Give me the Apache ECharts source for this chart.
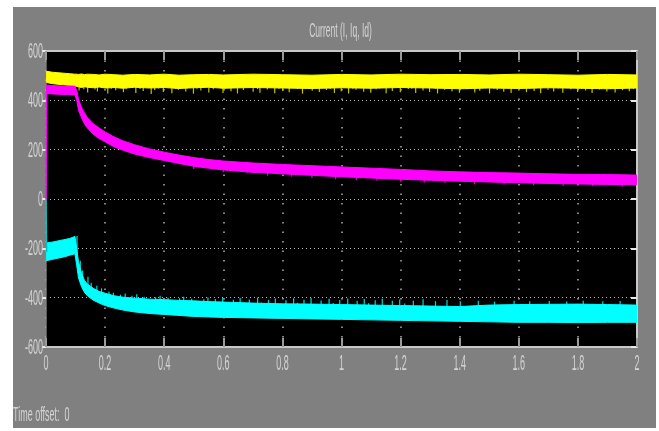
<!DOCTYPE html>
<html>
<head>
<meta charset="utf-8">
<script src="https://cdn.jsdelivr.net/npm/echarts@6/dist/echarts.min.js"></script>
<style>
  html, body { margin: 0; padding: 0; background: #ffffff; }
  #chart { width: 659px; height: 431px; }
</style>
</head>
<body>
<div id="chart"></div>
<script>
// Scope trace: three current signals sampled as band envelopes (low / high edge)
const time = [0.002, 0.02, 0.04, 0.06, 0.08, 0.098, 0.104, 0.11, 0.12, 0.13, 0.14, 0.16, 0.18, 0.2, 0.23, 0.26,
  0.3, 0.35, 0.4, 0.45, 0.5, 0.55, 0.6, 0.7, 0.8, 0.9, 1.0, 1.1, 1.2, 1.3, 1.4, 1.5, 1.6, 1.7, 1.8, 1.9, 2.0];

// I (yellow)
const iHigh = [518, 514, 512, 510, 508, 506, 506, 505, 507, 504, 506, 505, 503, 506, 504, 502,
  505, 503, 506, 502, 504, 505, 503, 506, 504, 502, 505, 503, 506, 504, 505, 503, 506, 504, 502, 505, 503];
const iLow = [472, 468, 465, 463, 460, 458, 456, 455, 452, 455, 453, 451, 454, 450, 452, 449,
  453, 450, 452, 448, 451, 453, 449, 452, 450, 448, 451, 449, 452, 450, 447, 450, 448, 451, 449, 447, 450];

// Iq (magenta)
const iqHigh = [462, 460, 459, 458, 458, 457, 440, 405, 372, 350, 330, 305, 288, 272, 252, 236,
  220, 203, 190, 178, 168, 160, 154, 146, 140, 135, 130, 125, 120, 114, 110, 107, 105, 102, 100, 99, 97];
const iqLow = [428, 426, 425, 424, 423, 422, 400, 360, 330, 305, 288, 262, 245, 232, 212, 198,
  182, 168, 156, 144, 133, 125, 118, 108, 102, 96, 90, 85, 80, 76, 72, 69, 66, 63, 61, 59, 58];

// Id (cyan)
const idHigh = [-178, -175, -170, -165, -160, -152, -200, -255, -300, -330, -345, -362, -375, -382, -392, -398,
  -402, -406, -408, -411, -413, -416, -418, -422, -425, -426, -428, -430, -432, -434, -436, -430, -428, -427, -426, -428, -430];
const idLow = [-250, -245, -240, -235, -228, -222, -270, -320, -355, -378, -392, -410, -422, -432, -442, -450,
  -458, -464, -468, -472, -476, -478, -480, -482, -484, -486, -488, -490, -492, -494, -496, -498, -500, -500, -501, -500, -500];

// Switch-on transients at t = 0
const iqStart = [[0, 0], [0.002, 445]];
const idStart = [[0, 0], [0.002, -215]];

// Noise spikes leaving the bands: [time, tip value]
const iSpikes = [[0.112, 440], [0.128, 445], [0.141, 432], [0.166, 444], [0.174, 436], [0.209, 428], [0.221, 447],
  [0.236, 441], [0.262, 433], [0.271, 445], [0.304, 430], [0.318, 446], [0.329, 438], [0.356, 426], [0.368, 442],
  [0.381, 448], [0.397, 434], [0.426, 429], [0.439, 446], [0.448, 443], [0.473, 436], [0.499, 427], [0.511, 447],
  [0.524, 440], [0.551, 432], [0.566, 445], [0.599, 430], [0.607, 447], [0.626, 437], [0.648, 428], [0.668, 442],
  [0.701, 435], [0.716, 446], [0.724, 431], [0.749, 444], [0.774, 429], [0.788, 447], [0.801, 438], [0.823, 433],
  [0.851, 446], [0.868, 427], [0.879, 448], [0.901, 439], [0.925, 434], [0.949, 442], [0.962, 447], [0.976, 430],
  [0.999, 437], [1.024, 428], [1.038, 447], [1.049, 443], [1.075, 435], [1.099, 431], [1.117, 445], [1.129, 448],
  [1.151, 429], [1.172, 438], [1.199, 433], [1.226, 446], [1.238, 447], [1.251, 430], [1.276, 440], [1.298, 434],
  [1.318, 447], [1.325, 428], [1.349, 443], [1.374, 436], [1.399, 431], [1.411, 447], [1.424, 445], [1.451, 432],
  [1.468, 439], [1.501, 428], [1.516, 447], [1.527, 442], [1.549, 435], [1.574, 430], [1.591, 446], [1.626, 433],
  [1.638, 447], [1.652, 438], [1.674, 429], [1.699, 443], [1.718, 436], [1.733, 448], [1.749, 431], [1.776, 445],
  [1.799, 434], [1.812, 447], [1.826, 440], [1.848, 430], [1.873, 444], [1.898, 436], [1.911, 447], [1.926, 432],
  [1.951, 441], [1.974, 437], [1.988, 446]];
const iqSpikes = [[0.5, 122], [0.6, 108], [0.68, 104], [0.75, 94], [0.83, 90], [0.9, 85], [0.98, 80], [1.05, 76], [1.12, 74],
  [1.2, 70], [1.28, 66], [1.35, 64], [1.45, 60], [1.55, 58], [1.65, 55], [1.75, 53], [1.85, 52], [1.95, 50]];
const idSpikes = [[0.105, -150], [0.116, -250], [0.124, -290], [0.142, -315], [0.153, -340], [0.172, -352], [0.188, -362],
  [0.213, -375], [0.228, -380], [0.252, -388], [0.268, -383], [0.291, -392], [0.307, -386], [0.332, -396], [0.347, -412],
  [0.371, -398], [0.386, -392], [0.413, -400], [0.428, -414], [0.452, -402], [0.466, -396], [0.493, -404], [0.508, -418],
  [0.534, -406], [0.548, -399], [0.573, -405], [0.598, -400], [0.611, -419], [0.634, -408], [0.657, -401], [0.688, -407],
  [0.716, -400], [0.729, -420], [0.753, -409], [0.776, -403], [0.812, -410], [0.838, -402], [0.851, -421], [0.873, -408],
  [0.897, -401], [0.931, -411], [0.958, -404], [0.972, -422], [0.994, -409], [1.021, -403], [1.053, -412], [1.077, -405],
  [1.092, -423], [1.114, -410], [1.138, -404], [1.172, -413], [1.197, -407], [1.214, -424], [1.243, -412], [1.276, -406],
  [1.318, -414], [1.357, -409], [1.402, -415], [1.463, -412], [1.518, -416], [1.584, -413], [1.637, -415], [1.703, -414],
  [1.762, -416], [1.818, -413], [1.884, -415], [1.943, -414]];

// Axis ticks and their printed labels
const xTickValues = [0, 0.2, 0.4, 0.6, 0.8, 1, 1.2, 1.4, 1.6, 1.8, 2];
const xTickLabels = ['0', '0.2', '0.4', '0.6', '0.8', '1', '1.2', '1.4', '1.6', '1.8', '2'];
const yTickValues = [-600, -400, -200, 0, 200, 400, 600];
const yTickLabels = ['-600', '-400', '-200', '0', '200', '400', '600'];

const titleText = 'Current (I, Iq, Id)';
const footerText = 'Time offset:  0';

const LABEL = '#d4d4d4';
const FRAME = '#c8c8c8';
const FONT = "'Liberation Sans', sans-serif";
const SQUEEZE = 0.45;   // scope font is very narrow

// band centre at time t, used as the foot of each spike
function centreAt(t, lo, hi) {
  for (let i = 0; i < time.length - 1; i++) {
    if (t >= time[i] && t <= time[i + 1]) {
      const f = (t - time[i]) / (time[i + 1] - time[i]);
      const a = (lo[i] + hi[i]) / 2, b = (lo[i + 1] + hi[i + 1]) / 2;
      return a + f * (b - a);
    }
  }
  return (lo[lo.length - 1] + hi[hi.length - 1]) / 2;
}

function band(name, lo, hi, color) {
  return {
    name, type: 'custom', clip: true, silent: true, z: 3,
    data: time.map((t, i) => [t, lo[i], hi[i]]),
    encode: { x: 0, y: [1, 2] },
    renderItem(params, api) {
      if (params.dataIndex !== 0) return null;
      const pts = [];
      for (let i = 0; i < time.length; i++) pts.push(api.coord([time[i], hi[i]]));
      for (let i = time.length - 1; i >= 0; i--) pts.push(api.coord([time[i], lo[i]]));
      return { type: 'polygon', shape: { points: pts }, style: { fill: color, stroke: color, lineWidth: 1 } };
    }
  };
}

function spikes(name, list, lo, hi, color) {
  return {
    name, type: 'custom', clip: true, silent: true, z: 2,
    data: list,
    encode: { x: 0, y: 1 },
    renderItem(params, api) {
      const t = api.value(0);
      const p1 = api.coord([t, api.value(1)]);
      const p2 = api.coord([t, centreAt(t, lo, hi)]);
      return { type: 'line', shape: { x1: p1[0], y1: p1[1], x2: p2[0], y2: p2[1] }, style: { stroke: color, lineWidth: 1.2 } };
    }
  };
}

function startLine(name, pts, color) {
  return {
    name, type: 'line', data: pts, symbol: 'none', silent: true, z: 4,
    lineStyle: { color, width: 1.5 }
  };
}

function narrowText(text, x, y, size, align) {
  return {
    type: 'text', x, y, scaleX: SQUEEZE, scaleY: 1.1, silent: true, z: 10,
    style: {
      text, fill: LABEL, font: size + 'px ' + FONT,
      align, verticalAlign: 'middle', textAlign: align, textVerticalAlign: 'middle'
    }
  };
}

const chart = echarts.init(document.getElementById('chart'), null, { renderer: 'canvas' });

const hDots = { color: '#b8b8b8', width: 1, type: [1, 3] };
const vDots = { color: '#b0b0b0', width: 1.5, type: [1.5, 8] };

chart.setOption({
  backgroundColor: '#ffffff',
  animation: false,
  grid: { left: 46, top: 51, width: 591, height: 296, show: true, backgroundColor: '#000000', borderWidth: 0 },
  xAxis: [
    {
      type: 'value', min: 0, max: 2, interval: 0.2, position: 'bottom',
      axisLine: { show: true, onZero: false, lineStyle: { color: FRAME, width: 2 } },
      axisTick: { show: true, inside: true, length: 9, lineStyle: { color: '#9a9a9a', width: 2 } },
      axisLabel: { show: false },
      splitLine: { show: true, lineStyle: vDots }
    },
    {
      type: 'value', min: 0, max: 2, interval: 0.2, position: 'top',
      axisLine: { show: true, onZero: false, lineStyle: { color: FRAME, width: 2 } },
      axisTick: { show: true, inside: true, length: 9, lineStyle: { color: '#9a9a9a', width: 2 } },
      axisLabel: { show: false }, splitLine: { show: false }
    }
  ],
  yAxis: [
    {
      type: 'value', min: -600, max: 600, interval: 200, position: 'left',
      axisLine: { show: true, onZero: false, lineStyle: { color: '#5a5a5a', width: 1 } },
      axisTick: { show: true, inside: false, length: 4, lineStyle: { color: '#e8e8e8', width: 2 } },
      axisLabel: { show: false },
      splitLine: { show: true, lineStyle: hDots }
    },
    {
      type: 'value', min: -600, max: 600, interval: 200, position: 'right',
      axisLine: { show: true, onZero: false, lineStyle: { color: FRAME, width: 2 } },
      axisTick: { show: true, inside: true, length: 6, lineStyle: { color: '#e8e8e8', width: 2 } },
      axisLabel: { show: false }, splitLine: { show: false }
    }
  ],
  series: [
    spikes('I noise', iSpikes, iLow, iHigh, '#c4c400'),
    band('I', iLow, iHigh, '#ffff00'),
    spikes('Iq noise', iqSpikes, iqLow, iqHigh, '#e000e0'),
    band('Iq', iqLow, iqHigh, '#ff00ff'),
    spikes('Id noise', idSpikes, idLow, idHigh, '#00d8d8'),
    band('Id', idLow, idHigh, '#00ffff'),
    startLine('Iq start', iqStart, '#ff00ff'),
    startLine('Id start', idStart, '#00c0c0')
  ]
});

// Tick labels and captions in the scope's narrow lettering, placed through the axis scales
const graphics = [
  { type: 'rect', z: -10, silent: true, shape: { x: 13, y: 7, width: 643, height: 421 }, style: { fill: '#808080' } }
];
xTickValues.forEach((v, i) => {
  const p = chart.convertToPixel({ xAxisIndex: 0, yAxisIndex: 0 }, [v, -600]);
  graphics.push(narrowText(xTickLabels[i], p[0], p[1] + 17, 20, 'center'));
});
yTickValues.forEach((v, i) => {
  const p = chart.convertToPixel({ xAxisIndex: 0, yAxisIndex: 0 }, [0, v]);
  graphics.push(narrowText(yTickLabels[i], p[0] - 3, p[1] + 1, 20, 'right'));
});
const mid = chart.convertToPixel({ xAxisIndex: 0, yAxisIndex: 0 }, [1, 600]);
graphics.push(narrowText(titleText, mid[0] - 1, 31, 19, 'center'));
graphics.push(Object.assign(narrowText(footerText, 13, 416, 18, 'left'), { scaleX: 0.5 }));
chart.setOption({ graphic: graphics });
</script>
</body>
</html>
